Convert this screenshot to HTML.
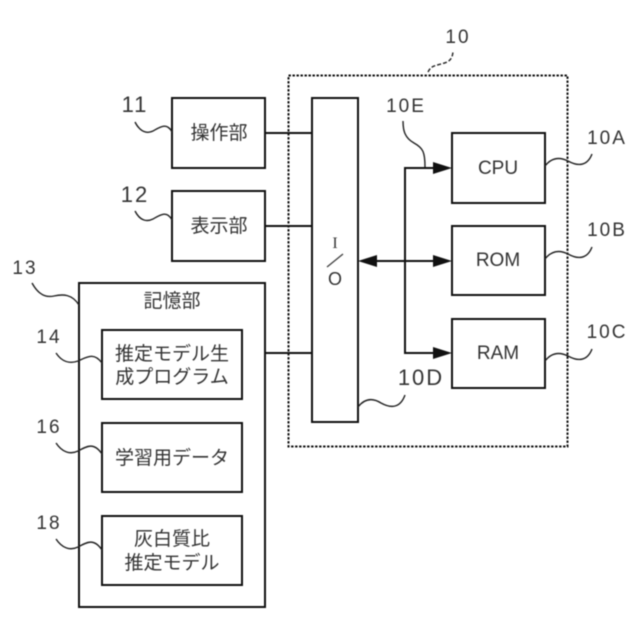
<!DOCTYPE html>
<html lang="ja">
<head>
<meta charset="utf-8">
<style>
html,body{margin:0;padding:0;background:#fff;width:640px;height:640px;overflow:hidden}
svg{display:block;filter:blur(.45px)}
text{font-family:"Liberation Sans","Noto Sans CJK JP",sans-serif;fill:#333;text-anchor:middle}
.j{font-size:19px}
.n{font-size:19px;letter-spacing:2px}
.b{fill:#fff;stroke:#111;stroke-width:2}
.l{fill:none;stroke:#111;stroke-width:2}
.w{fill:none;stroke:#222;stroke-width:1.4}
</style>
</head>
<body>
<svg width="640" height="640" viewBox="0 0 640 640" xmlns="http://www.w3.org/2000/svg">
<rect width="640" height="640" fill="#fff"/>

<!-- dotted enclosure -->
<rect x="288.500" y="75.500" width="279" height="371" fill="none" stroke="#111" stroke-width="2" stroke-dasharray="2.400 1.600"/>
<path d="M428 72 C431 66 434 66 441 64 C449 62 452 60 453 52" fill="none" stroke="#222" stroke-width="1.400" stroke-dasharray="4 2"/>
<text class="n" x="458" y="43">10</text>

<!-- connection lines -->
<path class="l" d="M265 133H312M265 226H312M265 353H312"/>
<path class="l" d="M436 168H405V353H436"/>
<path class="l" d="M374 261H436"/>
<path d="M433 162L452 168L433 174Z M433 255L452 261L433 267Z M433 347L452 353L433 359Z M358 261L377 255V267Z" fill="#111"/>

<!-- I/O -->
<rect class="b" x="312" y="98" width="46" height="324"/>
<text x="335" y="248" style="font-size:16px;font-family:'Liberation Serif',serif">I</text>
<path d="M327 267L343 254" stroke="#444" stroke-width="1.400" fill="none"/>
<text x="335" y="285" style="font-size:18px">O</text>

<!-- CPU / ROM / RAM -->
<rect class="b" x="452" y="133" width="93" height="70"/>
<rect class="b" x="452" y="226" width="93" height="69"/>
<rect class="b" x="452" y="319" width="93" height="69"/>
<text x="498" y="174" style="font-size:19px">CPU</text>
<text x="498" y="266" style="font-size:19px">ROM</text>
<text x="498" y="359" style="font-size:19px">RAM</text>

<!-- left boxes -->
<rect class="b" x="172" y="98" width="93" height="70"/>
<rect class="b" x="172" y="191" width="93" height="70"/>
<rect class="b" x="79" y="283" width="186" height="324"/>
<rect class="b" x="102" y="330" width="140" height="69"/>
<rect class="b" x="102" y="423" width="140" height="69"/>
<rect class="b" x="102" y="516" width="140" height="69"/>

<text class="j" x="219" y="139">操作部</text>
<text class="j" x="219" y="232">表示部</text>
<text class="j" x="172" y="307">記憶部</text>
<text class="j" x="172" y="360">推定モデル生</text>
<text class="j" x="172" y="383">成プログラム</text>
<text class="j" x="172" y="464">学習用データ</text>
<text class="j" x="172" y="545">灰白質比</text>
<text class="j" x="172" y="569">推定モデル</text>

<!-- reference numerals -->
<text class="n" x="135" y="112" style="font-size:22px">11</text>
<text class="n" x="135" y="202" style="font-size:22px">12</text>
<text class="n" x="25" y="274">13</text>
<text class="n" x="49" y="343">14</text>
<text class="n" x="49" y="433">16</text>
<text class="n" x="49" y="529">18</text>
<text class="n" x="406" y="112">10E</text>
<text class="n" x="607" y="144">10A</text>
<text class="n" x="607" y="236">10B</text>
<text class="n" x="607" y="338">10C</text>
<text class="n" x="421" y="385" style="font-size:22px">10D</text>

<!-- squiggle leaders -->
<path class="w" d="M135 122C140 132 147 134 153 131C160 127 167 122 172 132"/>
<path class="w" d="M135 211C140 221 147 222 153 219C160 215 167 210 172 220"/>
<path class="w" d="M32 283C38 294 45 298 54 296C63 294 72 294 79 305"/>
<path class="w" d="M56 353C62 362 70 364 78 361C87 357 94 352 102 363"/>
<path class="w" d="M56 443C62 452 70 455 78 451C87 446 94 442 102 454"/>
<path class="w" d="M56 539C62 548 70 551 78 547C87 542 94 538 102 550"/>
<path class="w" d="M403 121C403 131 405 138 414 143C423 148 425 152 425 167"/>
<path class="w" d="M545 166C552 157 560 157 568 161C577 166 587 167 592 154"/>
<path class="w" d="M545 259C552 250 560 250 568 254C577 259 587 260 592 247"/>
<path class="w" d="M545 361C552 352 560 352 568 356C577 361 587 362 592 349"/>
<path class="w" d="M358 407C365 398 373 398 381 403C390 408 400 409 405 395"/>
</svg>
</body>
</html>
